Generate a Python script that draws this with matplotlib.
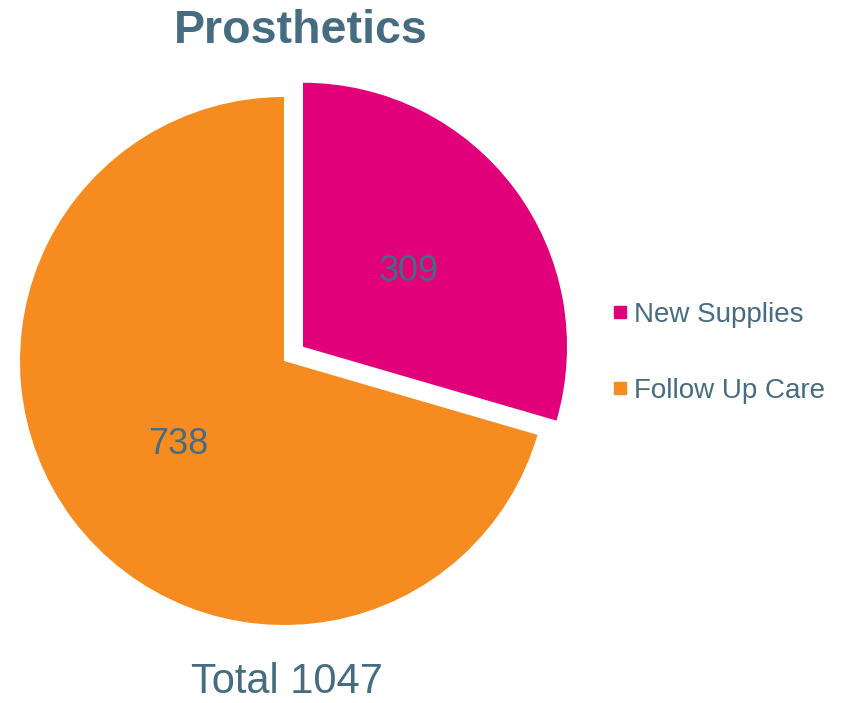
import matplotlib.pyplot as plt
from matplotlib.lines import Line2D

plt.rcParams['font.family'] = ['Liberation Sans', 'DejaVu Sans']

labels = ['New Supplies', 'Follow Up Care']
values = [309, 738]
colors = ['#E2007A', '#F68B1F']
explode = [0.09, 0]
text_col = '#466C82'

W, H = 845, 703
fig = plt.figure(figsize=(W / 100, H / 100), dpi=100)

# pie centre / radius in pixels
cx, cy, r = 284, 361, 264
ax = fig.add_axes([(cx - r) / W, (H - cy - r) / H, 2 * r / W, 2 * r / H])

wedges, texts, autotexts = ax.pie(values, colors=colors, explode=explode,
                                  startangle=90, counterclock=False,
                                  autopct=lambda p: '{:.0f}'.format(p * sum(values) / 100),
                                  pctdistance=0.5,
                                  wedgeprops=dict(linewidth=0))
for t in autotexts:
    t.set_color(text_col)
    t.set_fontsize(26)
    t.set_va('center_baseline')
ax.set_xlim(-1, 1)
ax.set_ylim(-1, 1)
ax.set_aspect('equal')
ax.axis('off')
for w in wedges:
    w.set_clip_on(False)

fig.text(301 / W, 1 - 31 / H, 'Prosthetics', ha='center', va='center',
         fontsize=33.5, fontweight='bold', color=text_col)
fig.text(287 / W, 1 - 682 / H, 'Total {}'.format(sum(values)), ha='center', va='center',
         fontsize=30, color=text_col)

handles = [Line2D([], [], marker='s', linestyle='none', markersize=9,
                  markerfacecolor=c, markeredgecolor=c) for c in colors]
leg = fig.legend(handles, labels, loc='center left', bbox_to_anchor=(598 / W, 1 - 353 / H),
                 frameon=False, fontsize=20, labelspacing=1.8, handlelength=0.6,
                 handletextpad=0.2, borderpad=0)
for t in leg.get_texts():
    t.set_color(text_col)

fig.savefig('out.png', dpi=100)
